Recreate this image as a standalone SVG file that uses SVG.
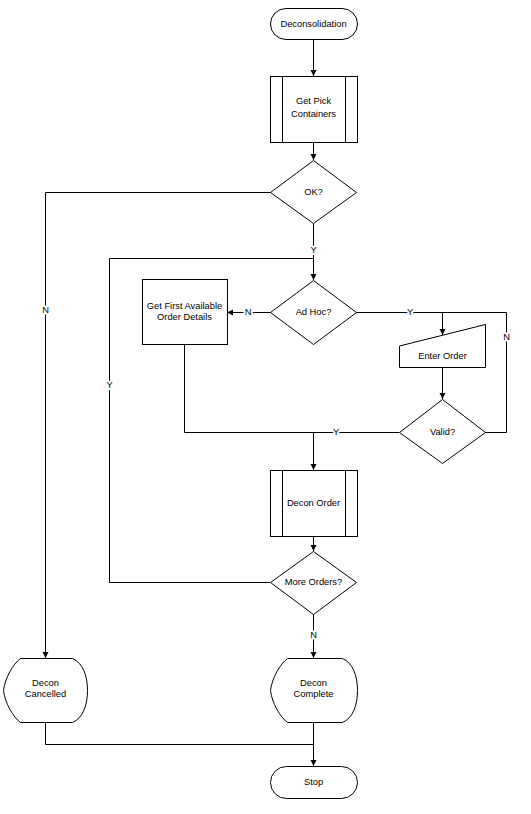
<svg xmlns="http://www.w3.org/2000/svg" width="531" height="814" viewBox="0 0 531 814">
<style>
.s{fill:#fff;stroke:#000;stroke-width:1}
.c{fill:none;stroke:#000;stroke-width:1}
text{font-family:"Liberation Sans",Arial,sans-serif;font-size:9.3px;fill:#000;text-anchor:middle;dominant-baseline:central}
.lb{stroke:#fff;stroke-width:4;paint-order:stroke;stroke-linejoin:round}
</style>
<defs>
<marker id="ah" markerUnits="userSpaceOnUse" markerWidth="7" markerHeight="7" refX="6" refY="3.5" orient="auto">
<path d="M0,0.5 L6,3.5 L0,6.5 Z" fill="#000"/>
</marker>
</defs>
<rect width="531" height="814" fill="#fff"/>
<g id="connectors">
<path class="c" d="M313.5,39 V76" marker-end="url(#ah)"/>
<path class="c" d="M313.5,142 V160" marker-end="url(#ah)"/>
<path class="c" d="M271,192.5 H45.5 V658" marker-end="url(#ah)"/>
<path class="c" d="M313.5,223 V280" marker-end="url(#ah)"/>
<path class="c" d="M270,582.5 H109.5 V258.5 H313.5"/>
<path class="c" d="M271,312.5 H227" marker-end="url(#ah)"/>
<path class="c" d="M356,312.5 H506.5 V432.5 H485"/>
<path class="c" d="M442.5,312.5 V335" marker-end="url(#ah)"/>
<path class="c" d="M442.5,368 V399" marker-end="url(#ah)"/>
<path class="c" d="M399,432.5 H184.5 V344"/>
<path class="c" d="M313.5,432.5 V470" marker-end="url(#ah)"/>
<path class="c" d="M313.5,536 V551" marker-end="url(#ah)"/>
<path class="c" d="M313.5,614 V658" marker-end="url(#ah)"/>
<path class="c" d="M45.5,722 V744.5 H313.5"/>
<path class="c" d="M313.5,722 V766" marker-end="url(#ah)"/>
<text class="lb" x="45.5" y="310">N</text>
<text class="lb" x="313.5" y="250">Y</text>
<text class="lb" x="109.5" y="385">Y</text>
<text class="lb" x="248" y="312">N</text>
<text class="lb" x="410" y="312">Y</text>
<text class="lb" x="506.5" y="337">N</text>
<text class="lb" x="336" y="432">Y</text>
<text class="lb" x="313.5" y="635">N</text>
</g>
<g id="deconsolidation">
<rect class="s" x="270.5" y="8.5" width="87" height="31" rx="15.5"/>
<text x="313.5" y="24">Deconsolidation</text>
</g>
<g id="get-pick-containers">
<rect class="s" x="270.5" y="76.5" width="87" height="66"/>
<path class="c" d="M282.5,76.5 V142.5 M345.5,76.5 V142.5"/>
<text x="313.5" y="101">Get Pick</text>
<text x="313.5" y="114">Containers</text>
</g>
<g id="ok">
<path class="s" d="M313.5,160.5 L356.5,192.5 L313.5,223.5 L270.5,192.5 Z"/>
<text x="313.5" y="192">OK?</text>
</g>
<g id="ad-hoc">
<path class="s" d="M313.5,280.5 L356.5,312.5 L313.5,344.5 L270.5,312.5 Z"/>
<text x="313.5" y="312">Ad Hoc?</text>
</g>
<g id="get-first-available">
<rect class="s" x="142.5" y="279.5" width="85" height="65"/>
<text x="184.5" y="306">Get First Available</text>
<text x="184.5" y="317">Order Details</text>
</g>
<g id="enter-order">
<path class="s" d="M399.5,346 L485.5,324.5 V367.5 H399.5 Z"/>
<text x="442.5" y="355.5">Enter Order</text>
</g>
<g id="valid">
<path class="s" d="M442.5,399.5 L485.5,432.5 L442.5,463.5 L399.5,432.5 Z"/>
<text x="442.5" y="432">Valid?</text>
</g>
<g id="decon-order">
<rect class="s" x="270.5" y="470.5" width="87" height="66"/>
<path class="c" d="M282.5,470.5 V536.5 M345.5,470.5 V536.5"/>
<text x="313.5" y="503">Decon Order</text>
</g>
<g id="more-orders">
<path class="s" d="M313.5,551.5 L356.5,582.5 L313.5,614.5 L270.5,582.5 Z"/>
<text x="313.5" y="582">More Orders?</text>
</g>
<g id="decon-cancelled">
<path class="s" d="M20.5,658.5 H72.5 C83,663 87.5,676 87.5,690.5 C87.5,705 83,718 72.5,722.5 H20.5 C13,717 5,703 3.5,690.5 C5,678 13,664 20.5,658.5 Z"/>
<text x="45.5" y="683">Decon</text>
<text x="45.5" y="694">Cancelled</text>
</g>
<g id="decon-complete">
<path class="s" d="M287.5,658.5 H342.5 C353,663 357.5,676 357.5,690.5 C357.5,705 353,718 342.5,722.5 H287.5 C280,717 272,703 270.5,690.5 C272,678 280,664 287.5,658.5 Z"/>
<text x="313.5" y="683">Decon</text>
<text x="313.5" y="694">Complete</text>
</g>
<g id="stop">
<rect class="s" x="270.5" y="766.5" width="87" height="32" rx="16"/>
<text x="313.5" y="782">Stop</text>
</g>
</svg>
